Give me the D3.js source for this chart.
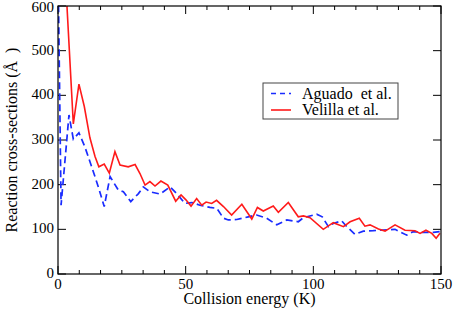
<!DOCTYPE html>
<html>
<head>
<meta charset="utf-8">
<script src="https://cdn.jsdelivr.net/npm/d3@7"></script>
<style>
  body { margin: 0; background: #fff; }
</style>
</head>
<body>
<svg id="chart" width="454" height="321"></svg>
<script>
// Velilla et al. (red, solid)
var velilla_k = [2, 6, 8.2, 10.3, 12.5, 14.5, 16, 18.1, 20.1, 22.3, 24.3, 27.5, 30.2, 32.1, 34.1, 36, 38, 40.3, 43, 46.1, 48.2,
  50.1, 52.1, 54.3, 56.3, 58, 60.2, 62.1, 64.8, 68, 72, 75.9, 78.1, 80.4, 84.3, 86.3, 90.2, 94.1, 96.1, 98.7,
  103.9, 107.8, 111.8, 114.4, 118, 120.2, 122.2, 125.5, 128.1, 132, 135.9, 139.8, 141.8, 144.1, 146.4, 148.1, 149.6];
var velilla_v = [760, 336, 425, 375, 305, 263, 240, 246, 226, 274, 244, 240, 245, 225, 199, 207, 197, 208, 199, 163, 177,
  166, 152, 169, 154, 161, 158, 165, 151, 132, 156, 123, 149, 141, 152, 138, 160, 128, 130, 126,
  100, 115, 106, 117, 125, 107, 110, 101, 96, 110, 98, 97, 91, 98, 91, 80, 91];

// Aguado et al. (blue, dashed)
var aguado_k = [0, 1.2, 4.3, 6, 8.2, 10.5, 13.2, 15.8, 18.1, 20.4, 23.6, 25.6, 28.5, 31.5, 33.4, 36, 40, 43.9, 46.5, 49.7,
  52.4, 55.6, 59.5, 62.2, 64.8, 66.7, 70, 74.5, 77.8, 81.7, 85.7, 89.6, 94.1, 96.1, 101.3, 103.5, 105.9, 107.8,
  111.1, 113.1, 116.3, 119.6, 123.5, 127.4, 132, 136.6, 139.2, 143.1, 147, 149.6];
var aguado_v = [700, 154, 356, 302, 316, 285, 240, 195, 151, 218, 188, 184, 162, 180, 195, 184, 179, 195, 180, 158,
  160, 154, 149, 147, 125, 121, 122, 128, 132, 125, 110, 121, 117, 126, 134, 128, 106, 113,
  119, 106, 89, 96, 97, 98.5, 100, 87, 95, 93, 93, 95];

var x_ticks = [0, 50, 100, 150];
var y_ticks = [0, 100, 200, 300, 400, 500, 600];
var legend_names = ["Aguado  et al.", "Velilla et al."];

const FONT = "'Liberation Serif', 'Times New Roman', Times, serif";

const margin = {top: 6, right: 13, bottom: 47, left: 58},
  width = 454 - margin.left - margin.right,
  height = 321 - margin.top - margin.bottom;

const svg1 = d3.select("#chart");
var svg = svg1.append("g").attr("transform", `translate(${margin.left},${margin.top})`);

const x = d3.scaleLinear().domain([0, 150]).range([0, width]);
const y = d3.scaleLinear().domain([0, 600]).range([height, 0]);

svg.append("clipPath").attr("id", "plot_clip")
  .append("rect").attr("width", width).attr("height", height);

/** minor ticks on x: 5 between majors */
var minor_x = d3.range(0, 151, 50 / 6).filter(d => x_ticks.indexOf(Math.round(d * 100) / 100) < 0);

// bottom + top ticks pointing inward
[height, 0].forEach(function(yy, i) {
  var dir = i === 0 ? -1 : 1;
  svg.selectAll(".xmaj" + i).data(x_ticks).join("line")
    .attr("x1", d => x(d)).attr("x2", d => x(d))
    .attr("y1", yy).attr("y2", yy + dir * 8)
    .attr("stroke", "#000").attr("stroke-width", 1);
  svg.selectAll(".xmin" + i).data(minor_x).join("line")
    .attr("x1", d => x(d)).attr("x2", d => x(d))
    .attr("y1", yy).attr("y2", yy + dir * 4)
    .attr("stroke", "#000").attr("stroke-width", 1);
});
// left + right ticks
[0, width].forEach(function(xx, i) {
  var dir = i === 0 ? 1 : -1;
  svg.selectAll(".ymaj" + i).data(y_ticks).join("line")
    .attr("x1", xx).attr("x2", xx + dir * 8)
    .attr("y1", d => y(d)).attr("y2", d => y(d))
    .attr("stroke", "#000").attr("stroke-width", 1);
});

// tick labels
svg.selectAll(".xlab").data(x_ticks).join("text")
  .attr("x", d => x(d)).attr("y", height + 15)
  .attr("text-anchor", "middle")
  .attr("font-family", FONT)
  .attr("font-size", 15)
  .text(d => d);
svg.selectAll(".ylab").data(y_ticks).join("text")
  .attr("x", -4).attr("y", d => Math.max(y(d) + 4, 6))
  .attr("text-anchor", "end")
  .attr("font-family", FONT)
  .attr("font-size", 15)
  .text(d => d);

// axis titles
svg1.append("text")
  .attr("x", margin.left + width / 2).attr("y", 304)
  .attr("text-anchor", "middle")
  .attr("font-family", FONT)
  .attr("font-size", 16)
  .text("Collision energy (K)");
svg1.append("text")
  .attr("transform", `translate(17,${margin.top + height / 2}) rotate(-90)`)
  .attr("text-anchor", "middle")
  .attr("font-family", FONT)
  .attr("font-size", 16)
  .style("white-space", "pre")
  .text("Reaction cross-sections (Å  )");

/** Drawing the lines */
const line = d3.line().x(d => x(d[0])).y(d => y(d[1]));
var plot = svg.append("g").attr("clip-path", "url(#plot_clip)");

plot.append("path")
  .datum(aguado_k.map((k, i) => [k, aguado_v[i]]))
  .attr("fill", "none")
  .attr("stroke", "#1a2cff")
  .attr("stroke-width", 1.7)
  .attr("stroke-dasharray", "7,4")
  .attr("d", line);

plot.append("path")
  .datum(velilla_k.map((k, i) => [k, velilla_v[i]]))
  .attr("fill", "none")
  .attr("stroke", "#ff1a1a")
  .attr("stroke-width", 1.6)
  .attr("d", line);

// frame
svg.append("rect")
  .attr("width", width).attr("height", height)
  .attr("fill", "none").attr("stroke", "#000").attr("stroke-width", 1.2);

// legend
var lg = svg1.append("g").attr("transform", "translate(263,83)");
lg.append("rect").attr("width", 135).attr("height", 36)
  .attr("fill", "#fff").attr("stroke", "#444").attr("stroke-width", 1);
var leg_styles = [{c: "#1a2cff", dash: "5,4"}, {c: "#ff1a1a", dash: null}];
legend_names.forEach(function(name, i) {
  lg.append("line")
    .attr("x1", 8).attr("x2", 28)
    .attr("y1", 10.5 + i * 16.5).attr("y2", 10.5 + i * 16.5)
    .attr("stroke", leg_styles[i].c).attr("stroke-width", 1.6)
    .attr("stroke-dasharray", leg_styles[i].dash);
  lg.append("text")
    .attr("x", 39).attr("y", 15.5 + i * 16.5)
    .attr("font-family", FONT)
    .attr("font-size", 16)
    .style("white-space", "pre")
    .text(name);
});
</script>
</body>
</html>
